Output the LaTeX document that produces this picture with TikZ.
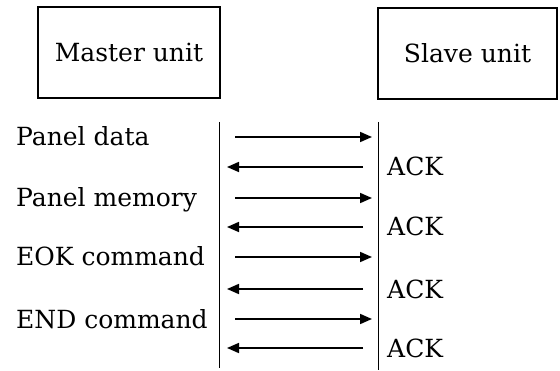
\documentclass[tikz,border=0pt]{standalone}
\usepackage{fontspec}
\setmainfont{DejaVu Serif}
\usetikzlibrary{arrows.meta}
\begin{document}
\begin{tikzpicture}[x=1pt,y=1pt,
  unitbox/.style={draw, line width=1.1pt, inner sep=0pt, font=\fontsize{25}{30}\selectfont},
  lbl/.style={anchor=base west, inner sep=0pt, font=\fontsize{25}{30}\selectfont},
  msg/.style={line width=1.7pt, -{Triangle[length=12pt,width=10pt]}},
  life/.style={line width=1pt}]
\useasboundingbox (0,0) rectangle (560,370);
\node[unitbox, minimum width=182pt, minimum height=91pt] (master) at (129,317.5) {Master unit};
\node[unitbox, minimum width=179pt, minimum height=91pt] (slave) at (467.5,316.5) {Slave unit};
\coordinate (mt) at (219,248);
\coordinate (mb) at (219,2);
\coordinate (st) at (378,248);
\coordinate (sb) at (378,0);
\draw[life] (mt) -- (mb);
\draw[life] (st) -- (sb);
% right arrows
\foreach \i/\y in {1/233,2/172,3/113,4/51} {
  \coordinate (r\i a) at (235,\y);
  \coordinate (r\i b) at (372,\y);
  \draw[msg] (r\i a) -- (r\i b);
}
% left arrows
\foreach \i/\y in {1/203,2/143,3/81,4/22} {
  \coordinate (l\i a) at (363,\y);
  \coordinate (l\i b) at (227,\y);
  \draw[msg] (l\i a) -- (l\i b);
}
\node[lbl] (t1) at (16,224) {Panel data};
\node[lbl] (t2) at (16,163) {Panel memory};
\node[lbl] (t3) at (16,104) {EOK command};
\node[lbl] (t4) at (16,42) {END command};
\node[lbl] (a1) at (387,194) {ACK};
\node[lbl] (a2) at (387,134) {ACK};
\node[lbl] (a3) at (387,72) {ACK};
\node[lbl] (a4) at (387,13) {ACK};
\end{tikzpicture}
\end{document}
